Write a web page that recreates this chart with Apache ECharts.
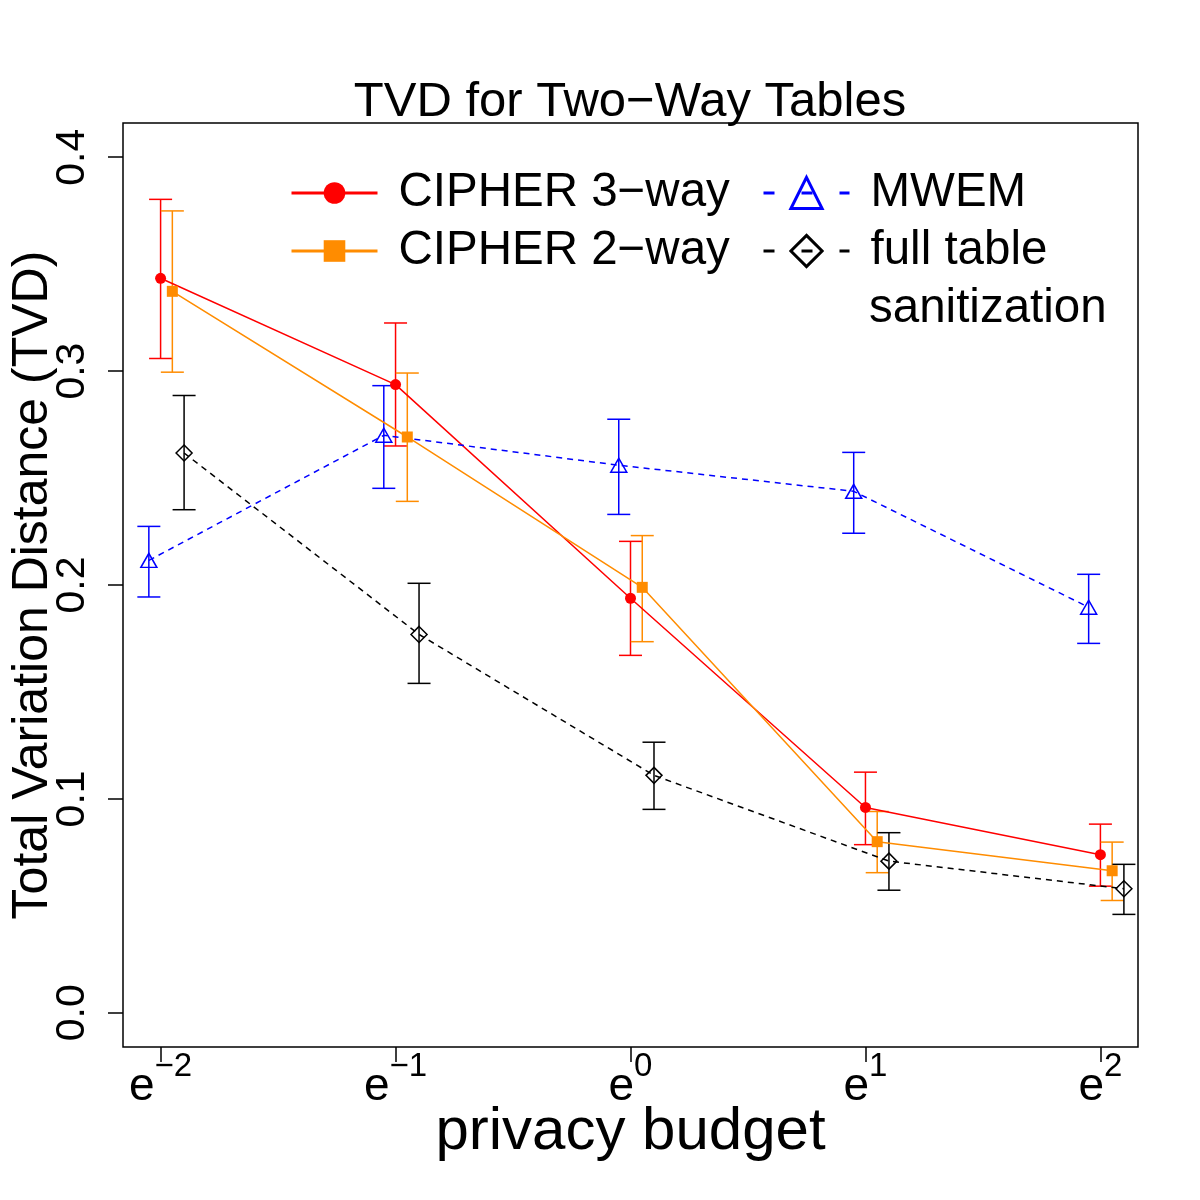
<!DOCTYPE html>
<html>
<head>
<meta charset="utf-8">
<script src="https://cdn.jsdelivr.net/npm/echarts@6/dist/echarts.min.js"></script>
<style>
html, body { margin: 0; padding: 0; background: #fff; }
#container { width: 1200px; height: 1200px; }
</style>
</head>
<body>
<div id="container"></div>
<script>
// privacy budget = e^k, plotted on the exponent k
var exponents = [-2, -1, 0, 1, 2];
var xTickSup = ['\u22122', '\u22121', '0', '1', '2'];
var yTicks = [0, 0.1, 0.2, 0.3, 0.4];

var cipher3Mean = [0.3434, 0.2937, 0.1938, 0.0960, 0.0739];
var cipher3Low  = [0.3059, 0.2650, 0.1671, 0.0786, 0.0592];
var cipher3High = [0.3803, 0.3225, 0.2204, 0.1125, 0.0882];

var cipher2Mean = [0.3373, 0.2692, 0.1989, 0.0800, 0.0664];
var cipher2Low  = [0.2995, 0.2391, 0.1735, 0.0655, 0.0525];
var cipher2High = [0.3749, 0.2991, 0.2231, 0.0941, 0.0798];

var mwemMean = [0.2115, 0.2700, 0.2560, 0.2438, 0.1896];
var mwemLow  = [0.1944, 0.2452, 0.2330, 0.2242, 0.1727];
var mwemHigh = [0.2274, 0.2932, 0.2775, 0.2620, 0.2050];

var fullMean = [0.2617, 0.1769, 0.1110, 0.0709, 0.0580];
var fullLow  = [0.2352, 0.1540, 0.0951, 0.0573, 0.0460];
var fullHigh = [0.2886, 0.2008, 0.1265, 0.0842, 0.0694];

// small horizontal jitter so the bars don't sit on top of each other
var shift3 = 0, shift2 = 0.05, shiftMwem = -0.05, shiftFull = 0.1;

var FONT = '"Liberation Sans", Arial, Helvetica, sans-serif';

function points(mean, shift) {
    return exponents.map(function (k, i) { return [k + shift, mean[i]]; });
}
function bars(low, high, shift) {
    return exponents.map(function (k, i) { return [k + shift, low[i], high[i]]; });
}

function errorBar(params, api) {
    var x = api.value(0);
    var lo = api.coord([x, api.value(1)]);
    var hi = api.coord([x, api.value(2)]);
    var cap = 11.5;
    var st = { stroke: api.visual('color'), lineWidth: 1.5, fill: null };
    return {
        type: 'group',
        children: [
            { type: 'line', shape: { x1: lo[0], y1: lo[1], x2: hi[0], y2: hi[1] }, style: st },
            { type: 'line', shape: { x1: lo[0] - cap, y1: lo[1], x2: lo[0] + cap, y2: lo[1] }, style: st },
            { type: 'line', shape: { x1: hi[0] - cap, y1: hi[1], x2: hi[0] + cap, y2: hi[1] }, style: st }
        ]
    };
}

function errSeries(name, color, low, high, shift) {
    return {
        name: name,
        type: 'custom',
        renderItem: errorBar,
        itemStyle: { color: color },
        encode: { x: 0, y: [1, 2] },
        data: bars(low, high, shift),
        silent: true,
        z: 3
    };
}

window.onload = function () {
    var myChart = echarts.init(document.getElementById('container'));

    var option = {
        animation: false,
        backgroundColor: '#fff',
        title: {
            text: 'TVD for Two\u2212Way Tables',
            left: 630,
            textAlign: 'center',
            top: 78,
            padding: 0,
            textStyle: { fontFamily: FONT, fontSize: 49, fontWeight: 'normal', color: '#000' }
        },
        grid: {
            left: 123, right: 62, top: 123, bottom: 153,
            containLabel: false,
            outerBoundsMode: 'none',
            show: true, borderColor: '#000', borderWidth: 1.5,
            backgroundColor: 'transparent'
        },
        legend: [{
            left: 290, top: 164, orient: 'vertical', padding: 0, itemGap: 0,
            itemWidth: 86, itemHeight: 27, selectedMode: false,
            lineStyle: { width: 3 },
            textStyle: { fontFamily: FONT, fontSize: 47.5, color: '#000', lineHeight: 58, padding: [0, 0, 0, 16] },
            data: ['CIPHER 3\u2212way', 'CIPHER 2\u2212way']
        }, {
            left: 762, top: 164, orient: 'vertical', padding: 0, itemGap: 0,
            itemWidth: 86, itemHeight: 39, selectedMode: false,
            lineStyle: { width: 3 },
            textStyle: { fontFamily: FONT, fontSize: 47.5, color: '#000', lineHeight: 58, padding: [0, 0, 0, 16] },
            data: [
                { name: 'MWEM', lineStyle: { type: [11, 27] }, itemStyle: { borderWidth: 3 } },
                { name: 'full table', lineStyle: { type: [11, 27] }, itemStyle: { borderWidth: 3 } }
            ]
        }],
        graphic: [{
            type: 'text',
            left: 869,
            top: 309 - 29,
            style: {
                text: 'sanitization',
                fontFamily: FONT, fontSize: 47.5, fill: '#000', lineHeight: 58
            }
        }],
        xAxis: {
            type: 'value',
            min: -2.16, max: 2.16,
            name: 'privacy budget',
            nameLocation: 'middle',
            nameGap: 55,
            nameMoveOverlap: false,
            nameTextStyle: { fontFamily: FONT, fontSize: 60, color: '#000' },
            axisLine: { show: false, onZero: false },
            splitLine: { show: false },
            axisTick: { show: true, length: 15, customValues: exponents, lineStyle: { color: '#000', width: 1.5 } },
            axisLabel: {
                customValues: exponents,
                margin: 3,
                formatter: function (v) {
                    return '{e|e}{s|' + xTickSup[exponents.indexOf(v)] + '}';
                },
                rich: {
                    e: { fontFamily: FONT, fontSize: 46, lineHeight: 60, color: '#000', verticalAlign: 'bottom' },
                    s: { fontFamily: FONT, fontSize: 33, lineHeight: 30, color: '#000', verticalAlign: 'top' }
                }
            }
        },
        yAxis: {
            type: 'value',
            min: -0.016, max: 0.416,
            name: 'Total Variation Distance (TVD)',
            nameLocation: 'middle',
            nameGap: 65,
            nameMoveOverlap: false,
            nameTextStyle: { fontFamily: FONT, fontSize: 50, color: '#000' },
            axisLine: { show: false, onZero: false },
            splitLine: { show: false },
            axisTick: { show: true, length: 15, customValues: yTicks, lineStyle: { color: '#000', width: 1.5 } },
            axisLabel: {
                customValues: yTicks,
                rotate: 90,
                margin: 30,
                fontFamily: FONT, fontSize: 41, color: '#000',
                formatter: function (v) { return v.toFixed(1); }
            }
        },
        series: [
            {
                name: 'CIPHER 3\u2212way', type: 'line',
                data: points(cipher3Mean, shift3),
                symbol: 'circle', symbolSize: 11,
                itemStyle: { color: '#ff0000' },
                lineStyle: { color: '#ff0000', width: 1.5 },
                silent: true, z: 4
            },
            {
                name: 'CIPHER 2\u2212way', type: 'line',
                data: points(cipher2Mean, shift2),
                symbol: 'rect', symbolSize: 11,
                itemStyle: { color: '#ff8c00' },
                lineStyle: { color: '#ff8c00', width: 1.5 },
                silent: true, z: 4
            },
            {
                name: 'MWEM', type: 'line',
                data: points(mwemMean, shiftMwem),
                symbol: 'triangle', symbolSize: [16, 14],
                itemStyle: { color: 'rgba(0,0,0,0)', borderColor: '#0000ff', borderWidth: 1.5 },
                lineStyle: { color: '#0000ff', width: 1.5, type: [6, 5] },
                silent: true, z: 4
            },
            {
                name: 'full table', type: 'line',
                data: points(fullMean, shiftFull),
                symbol: 'diamond', symbolSize: [16, 16],
                itemStyle: { color: 'rgba(0,0,0,0)', borderColor: '#000', borderWidth: 1.5 },
                lineStyle: { color: '#000', width: 1.5, type: [6, 5] },
                silent: true, z: 4
            },
            errSeries('err3', '#ff0000', cipher3Low, cipher3High, shift3),
            errSeries('err2', '#ff8c00', cipher2Low, cipher2High, shift2),
            errSeries('errMwem', '#0000ff', mwemLow, mwemHigh, shiftMwem),
            errSeries('errFull', '#000', fullLow, fullHigh, shiftFull)
        ]
    };

    myChart.setOption(option, true);
};
</script>
</body>
</html>
